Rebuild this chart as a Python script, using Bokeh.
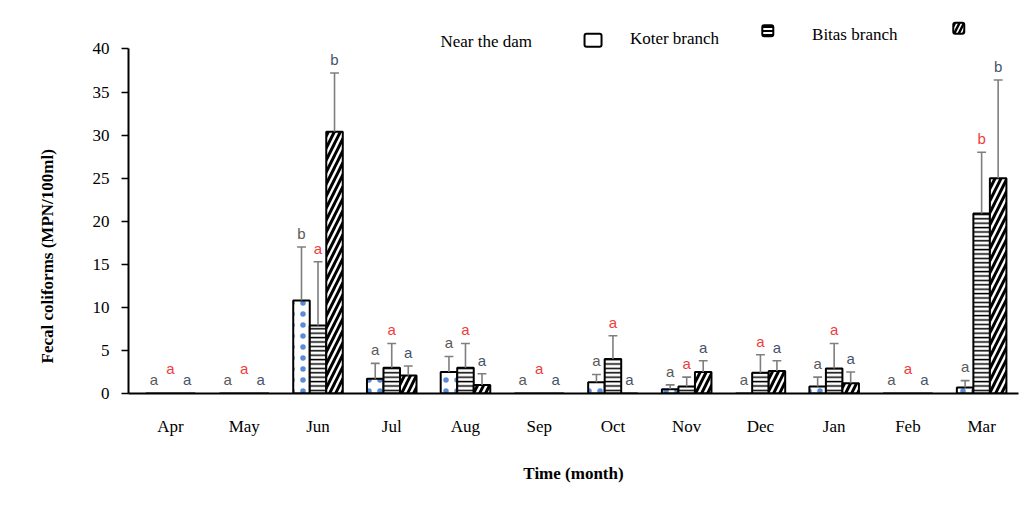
from bokeh.plotting import figure
from bokeh.models import ColumnDataSource, FixedTicker, Range1d, Title
from bokeh.core.properties import value
from bokeh.embed import file_html
from bokeh.resources import INLINE

months = ["Apr", "May", "Jun", "Jul", "Aug", "Sep", "Oct", "Nov", "Dec", "Jan", "Feb", "Mar"]
series = ["Near the dam", "Koter branch", "Bitas branch"]

near = [0, 0, 10.8, 1.7, 2.5, 0, 1.3, 0.5, 0, 0.8, 0, 0.7]
near_err = [0, 0, 6.2, 1.8, 1.8, 0, 0.9, 0.5, 0, 1.1, 0, 0.8]
near_let = ["a", "a", "b", "a", "a", "a", "a", "a", "a", "a", "a", "a"]

koter = [0, 0, 7.9, 3.0, 3.0, 0, 4.0, 0.8, 2.4, 2.9, 0, 20.9]
koter_err = [0, 0, 7.4, 2.8, 2.8, 0, 2.7, 1.1, 2.1, 2.9, 0, 7.1]
koter_let = ["a", "a", "a", "a", "a", "a", "a", "a", "a", "a", "a", "b"]

bitas = [0, 0, 30.4, 2.1, 1.0, 0, 0, 2.5, 2.6, 1.2, 0, 25.0]
bitas_err = [0, 0, 6.8, 1.1, 1.3, 0, 0, 1.3, 1.2, 1.3, 0, 11.4]
bitas_let = ["a", "a", "b", "a", "a", "a", "a", "a", "a", "a", "a", "b"]

y_ticks = [0, 5, 10, 15, 20, 25, 30, 35, 40]

SERIF = "Liberation Serif"
SANS = "Liberation Sans"

p = figure(width=1019, height=507, output_backend="svg", toolbar_location=None,
           x_range=Range1d(-0.57, 11.5), y_range=Range1d(0, 44))
p.min_border_left = 128
p.min_border_right = 1
p.min_border_top = 14
p.min_border_bottom = 114
p.outline_line_color = None
p.xgrid.grid_line_color = None
p.ygrid.grid_line_color = None
p.background_fill_color = "white"
p.border_fill_color = "white"

# axes
p.xaxis.ticker = FixedTicker(ticks=list(range(len(months))))
p.xaxis.major_label_overrides = {i: m for i, m in enumerate(months)}
p.xaxis.major_tick_line_color = None
p.xaxis.minor_tick_line_color = None
p.xaxis.axis_line_width = 2
p.xaxis.axis_line_color = "black"
p.xaxis.major_label_standoff = 17
p.xaxis.major_label_text_font = SERIF
p.xaxis.major_label_text_font_size = "17px"
p.xaxis.major_label_text_color = "black"
p.xaxis.axis_label = "Time (month)"
p.xaxis.axis_label_text_font = SERIF
p.xaxis.axis_label_text_font_size = "17px"
p.xaxis.axis_label_text_font_style = "bold"
p.xaxis.axis_label_text_color = "black"
p.xaxis.axis_label_standoff = 25

p.yaxis.ticker = FixedTicker(ticks=y_ticks)
p.yaxis.bounds = (0, 40)
p.yaxis.axis_line_width = 2
p.yaxis.axis_line_color = "black"
p.yaxis.major_tick_out = 7
p.yaxis.major_tick_in = 0
p.yaxis.major_tick_line_width = 1.5
p.yaxis.major_tick_line_color = "black"
p.yaxis.minor_tick_line_color = None
p.yaxis.major_label_standoff = 12
p.yaxis.major_label_text_font = SERIF
p.yaxis.major_label_text_font_size = "17px"
p.yaxis.major_label_text_color = "black"

# y axis title, placed like the original (lower than the frame centre)
ytitle = Title(text="Fecal coliforms (MPN/100ml)", align="left", offset=30, standoff=66,
               text_font=SERIF, text_font_size="17px", text_font_style="bold",
               text_color="black")
p.add_layout(ytitle, "left")

W = 0.224
offsets = [-W, 0.0, W]
vals = [near, koter, bitas]
errs = [near_err, koter_err, bitas_err]
lets = [near_let, koter_let, bitas_let]
let_colors = ["#595959", "#f03c3c", "#44546A"]
hatch = [
    dict(hatch_pattern=".", hatch_color="#5b8bd6", hatch_scale=11, hatch_weight=0.8),
    dict(hatch_pattern="-", hatch_color="black", hatch_scale=4.4, hatch_weight=1.5),
    dict(hatch_pattern="/", hatch_color="black", hatch_scale=12, hatch_weight=3),
]

for k in range(3):
    xs = [i + offsets[k] for i in range(len(months))]
    tops = [v + e for v, e in zip(vals[k], errs[k])]
    src = ColumnDataSource(dict(x=xs, top=vals[k], err_top=tops, month=months))
    p.vbar(x="x", top="top", width=W, bottom=0, source=src,
           fill_color="white", line_color="black", line_width=2, **hatch[k])
    # error bars
    ex = [x for x, e in zip(xs, errs[k]) if e > 0]
    ey0 = [v for v, e in zip(vals[k], errs[k]) if e > 0]
    ey1 = [t for t, e in zip(tops, errs[k]) if e > 0]
    esrc = ColumnDataSource(dict(x=ex, y0=ey0, y1=ey1,
                                 xl=[x - 0.06 for x in ex], xr=[x + 0.06 for x in ex]))
    p.segment(x0="x", y0="y0", x1="x", y1="y1", source=esrc, line_color="#7f7f7f", line_width=1.6)
    p.segment(x0="xl", y0="y1", x1="xr", y1="y1", source=esrc, line_color="#7f7f7f", line_width=1.6)
    # significance letters
    ly = []
    for v, t in zip(vals[k], tops):
        if v == 0 and k == 1:
            ly.append(1.9)
        else:
            ly.append(t + 0.6)
    lsrc = ColumnDataSource(dict(x=xs, y=ly, t=lets[k]))
    p.text(x="x", y="y", text="t", source=lsrc, text_align="center", text_baseline="bottom",
           text_font=value(SANS), text_font_size="15px", text_color=let_colors[k])

# legend (label followed by swatch, as in the original)
leg_text_pos = [(3.66, 40.9), (6.23, 41.2), (8.70, 41.7)]
leg_box_pos = [(5.73, 41.0, 17, 13), (8.10, 42.1, 11, 11), (10.69, 42.4, 11, 11)]
box_hatch = [
    dict(),
    dict(hatch_pattern="-", hatch_color="black", hatch_scale=4, hatch_weight=2),
    dict(hatch_pattern="/", hatch_color="black", hatch_scale=9, hatch_weight=2.5),
]
for k in range(3):
    tx, ty = leg_text_pos[k]
    p.text(x=[tx], y=[ty], text=[series[k]], text_align="left", text_baseline="middle",
           text_font=value(SERIF), text_font_size="17px", text_color="black")
    bx, by, bw, bh = leg_box_pos[k]
    p.rect(x=[bx], y=[by], width=bw, height=bh, width_units="screen", height_units="screen",
           fill_color="white", line_color="black", line_width=2, border_radius=2, **box_hatch[k])

open("out.html", "w").write(file_html(p, INLINE))
